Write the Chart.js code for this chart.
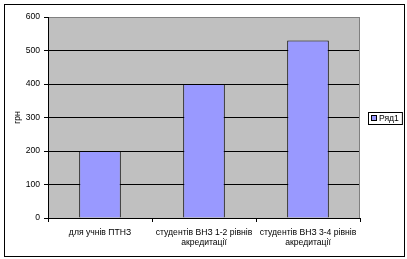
<!DOCTYPE html>
<html>
<head>
<meta charset="utf-8">
<script src="https://cdn.jsdelivr.net/npm/chart.js@4"></script>
<style>
html,body{margin:0;padding:0;background:#fff;}
#wrap{width:407px;height:259px;position:relative;}
</style>
</head>
<body>
<div id="wrap"><canvas id="c" width="407" height="259"></canvas></div>
<script>
const categories = [
  ['для учнів ПТНЗ'],
  ['студентів ВНЗ 1-2 рівнів', 'акредитації'],
  ['студентів ВНЗ 3-4 рівнів', 'акредитації']
];
const seriesName = 'Ряд1';
const seriesValues = [200, 400, 530];
const yTicks = [0, 100, 200, 300, 400, 500, 600];
const yTitle = 'грн';

const FONT = "'Liberation Sans', Arial, sans-serif";
const FS = 8.6;

const framePlugin = {
  id: 'frame',
  beforeDraw(chart) {
    const ctx = chart.ctx, a = chart.chartArea;
    ctx.save();
    ctx.fillStyle = '#fff';
    ctx.fillRect(0, 0, chart.width, chart.height);
    ctx.strokeStyle = '#000';
    ctx.lineWidth = 1;
    ctx.strokeRect(4.5, 4.5, 400, 252);
    ctx.fillStyle = '#C0C0C0';
    ctx.fillRect(a.left, a.top, a.right - a.left, a.bottom - a.top);
    ctx.restore();
  },
  beforeDatasetsDraw(chart) {
    const ctx = chart.ctx, a = chart.chartArea;
    ctx.save();
    ctx.strokeStyle = '#808080';
    ctx.lineWidth = 1;
    ctx.beginPath();
    ctx.moveTo(Math.round(a.right) - 0.5, a.top);
    ctx.lineTo(Math.round(a.right) - 0.5, a.bottom);
    ctx.stroke();
    ctx.restore();
  },
  afterDraw(chart) {
    const ctx = chart.ctx;
    const ds = chart.data.datasets[0];
    ctx.save();
    ctx.font = FS + 'px ' + FONT;
    const w = ctx.measureText(ds.label).width;
    const x0 = 368, y0 = 112;
    const bw = 11 + w + 3;
    ctx.fillStyle = '#fff';
    ctx.fillRect(x0, y0, bw, 12);
    ctx.strokeStyle = '#000';
    ctx.lineWidth = 1;
    ctx.strokeRect(x0 + 0.5, y0 + 0.5, bw, 12);
    ctx.fillStyle = ds.backgroundColor;
    ctx.fillRect(x0 + 3, y0 + 4, 5, 5);
    ctx.strokeRect(x0 + 3.5, y0 + 3.5, 5, 5);
    ctx.fillStyle = '#000';
    ctx.textBaseline = 'middle';
    ctx.fillText(ds.label, x0 + 11, y0 + 7);
    ctx.restore();
  }
};

new Chart(document.getElementById('c'), {
  type: 'bar',
  data: {
    labels: categories,
    datasets: [{
      label: seriesName,
      data: seriesValues,
      backgroundColor: '#9999FF',
      borderColor: '#000',
      borderWidth: 1,
      categoryPercentage: 1,
      barPercentage: 0.4
    }]
  },
  options: {
    responsive: false,
    animation: false,
    devicePixelRatio: 1,
    layout: { padding: { left: 0, top: 17, right: 47, bottom: 0 } },
    plugins: { legend: { display: false }, tooltip: { enabled: false } },
    scales: {
      x: {
        grid: {
          offset: true,
          drawOnChartArea: false,
          drawTicks: true,
          tickLength: 4,
          tickColor: '#000',
          color: '#000'
        },
        border: { display: true, color: '#000', width: 1 },
        ticks: {
          color: '#000',
          font: { family: FONT, size: FS, lineHeight: 1.2 },
          maxRotation: 0,
          autoSkip: false,
          padding: 5
        },
        afterFit(s) { s.height = 41; }
      },
      y: {
        min: 0,
        max: 600,
        afterBuildTicks(s) { s.ticks = yTicks.map(v => ({ value: v })); },
        grid: {
          color: ctx => (ctx.tick && ctx.tick.value === 600) ? '#808080' : '#000',
          tickColor: '#000',
          tickLength: 4,
          drawTicks: true
        },
        border: { display: true, color: '#000', width: 1 },
        ticks: {
          color: '#000',
          font: { family: FONT, size: FS },
          padding: 4
        },
        title: {
          display: true,
          text: yTitle,
          color: '#000',
          font: { family: FONT, size: FS },
          padding: { top: 12, bottom: 0 }
        },
        afterFit(s) { s.width = 48; }
      }
    }
  },
  plugins: [framePlugin]
});
</script>
</body>
</html>
